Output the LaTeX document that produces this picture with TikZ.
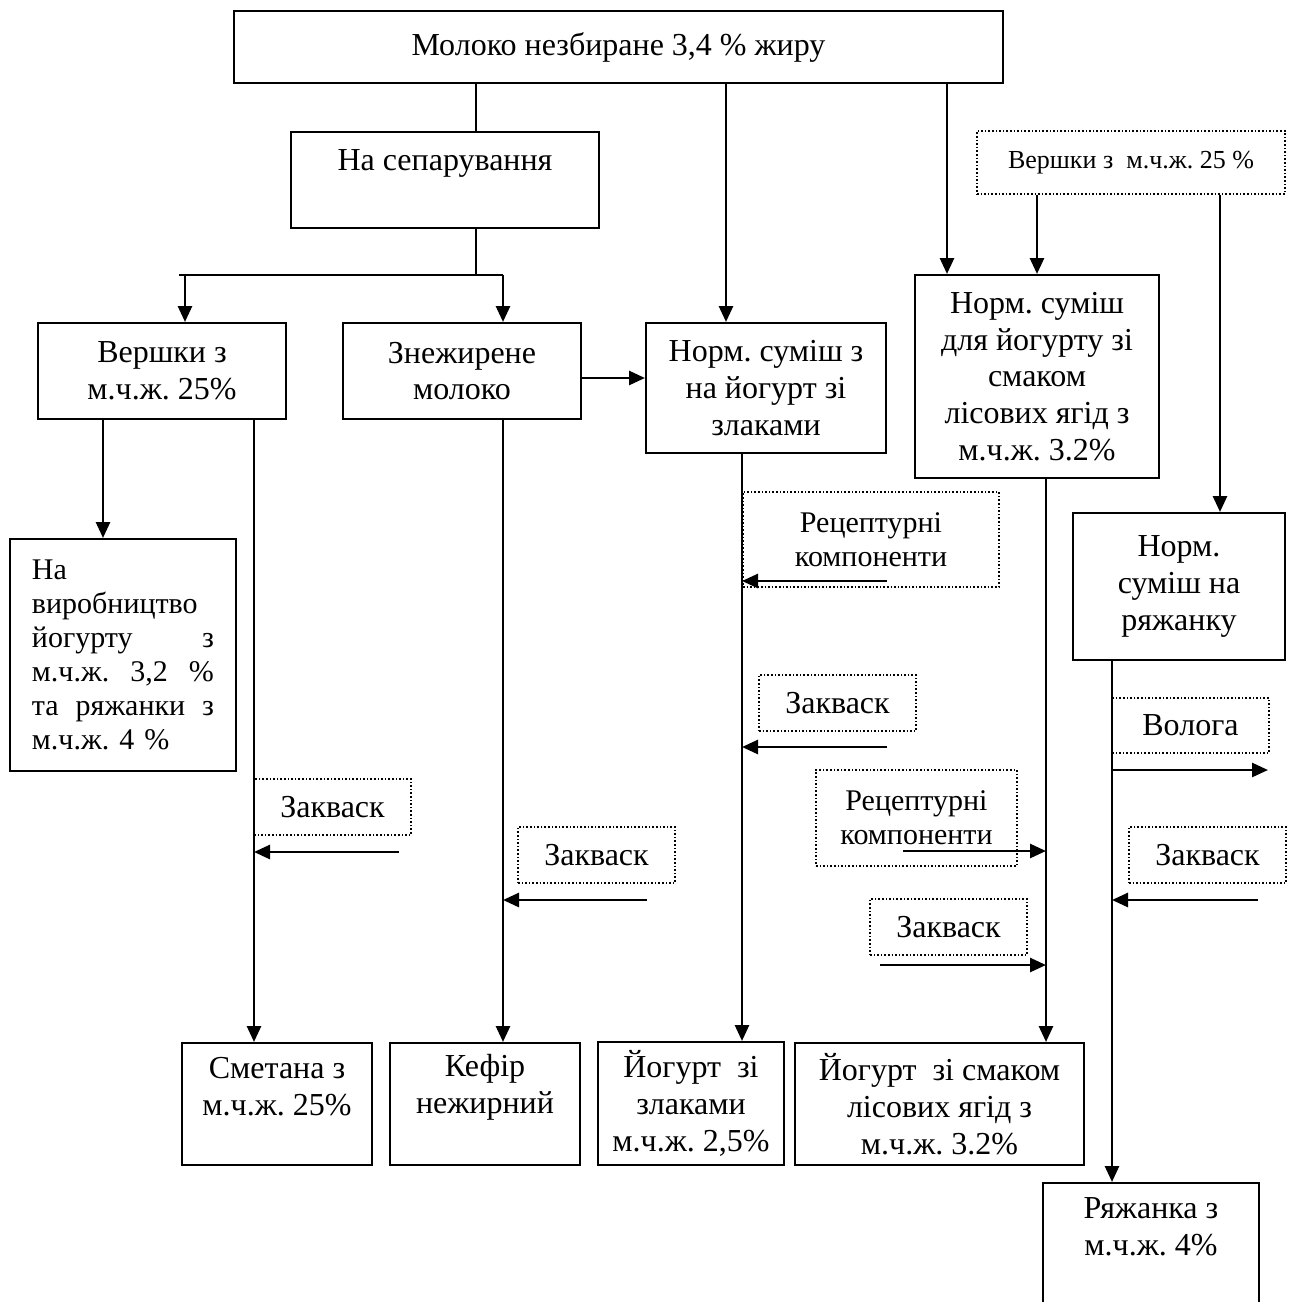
\documentclass[tikz,border=0pt]{standalone}
\usepackage{fontspec}
\setmainfont{Liberation Serif}
\usetikzlibrary{arrows.meta}
\frenchspacing

\tikzset{
  box/.style={draw, line width=1pt, inner sep=0pt, align=center, font=\fontsize{16}{18.4}\selectfont},
  dbox/.style={box, line width=0.8pt, densely dotted, minimum width=78.5pt, minimum height=28pt},
  txt/.style={inner sep=0pt, align=center, font=\fontsize{16}{18.4}\selectfont},
  ln/.style={line width=1.35pt},
  arr/.style={ln, -{Triangle[length=8pt,width=7pt]}}
}

\begin{document}
\begin{tikzpicture}[x=0.5pt, y=-0.5pt]
\useasboundingbox (0,0) rectangle (1294,1302);
\clip (0,0) rectangle (1294,1302);

\node[box, minimum width=384.5pt, minimum height=36pt] (milk) at (618.5,47) {Молоко незбиране 3,4 \% жиру};
\node[box, minimum width=154pt, minimum height=48pt] (sep) at (445,180) {};
\node[txt] (sepT) at (445,163) {На сепарування};
\node[box, minimum width=124pt, minimum height=48pt] (versh) at (162,371) {Вершки з\\м.ч.ж. 25\%};
\node[box, minimum width=119pt, minimum height=48pt] (znezh) at (462,371) {Знежирене\\молоко};
\node[box, minimum width=120pt, minimum height=65pt] (normZ) at (766,388) {Норм. суміш з\\на йогурт зі\\злаками};
\node[box, minimum width=122pt, minimum height=101.5pt] (normL) at (1037,376.5) {Норм. суміш\\для йогурту зі\\смаком\\лісових ягід з\\м.ч.ж. 3.2\%};
\node[dbox, font=\fontsize{13}{15}\selectfont, minimum width=154pt, minimum height=31.5pt] (vdot) at (1131,162.5) {Вершки з\ \ м.ч.ж. 25 \%};
\node[box, minimum width=106pt, minimum height=73.5pt] (normR) at (1179,586.5) {Норм.\\суміш на\\ряжанку};
\node[box, minimum width=113pt, minimum height=116pt] (naVyr) at (123,655) {};
\node[txt, align=left, text width=91pt, font=\fontsize{15}{17}\selectfont] (naVyrT) at (123,655)
  {На\\виробництво\\\makebox[91pt]{йогурту\hfill з}\\\makebox[91pt]{м.ч.ж.\hfill 3,2\hfill \%}\\\makebox[91pt]{та\hfill ряжанки\hfill з}\\м.ч.ж. 4 \%};

\node[dbox, font=\fontsize{15}{17}\selectfont, minimum width=128pt, minimum height=47.5pt] (rec1) at (871,539.5) {Рецептурні\\компоненти};
\node[dbox] (zak3) at (837.5,703) {Закваск};
\node[dbox, minimum height=27.5pt] (volo) at (1190.5,725.5) {Волога};
\node[dbox, font=\fontsize{15}{17}\selectfont, minimum width=100.5pt, minimum height=48pt] (rec2) at (916.5,818) {Рецептурні\\компоненти};
\node[dbox] (zak1) at (332.5,807) {Закваск};
\node[dbox] (zak2) at (596.5,855) {Закваск};
\node[dbox] (zak5) at (1207.5,855) {Закваск};
\node[dbox] (zak4) at (948.5,927) {Закваск};

\node[box, minimum width=95pt, minimum height=61pt] (smet) at (277,1104) {};
\node[txt] (smetT) at (277,1087) {Сметана з\\м.ч.ж. 25\%};
\node[box, minimum width=95pt, minimum height=61pt] (kefir) at (485,1104) {};
\node[txt] (kefirT) at (485,1087) {Кефір\\нежирний};
\node[box, minimum width=93pt, minimum height=61.5pt] (yogZ) at (691,1103.5) {Йогурт\ \ зі\\злаками\\м.ч.ж. 2,5\%};
\node[box, minimum width=144.5pt, minimum height=61pt] (yogL) at (939.5,1104) {Йогурт\ \ зі смаком\\лісових ягід з\\м.ч.ж. 3.2\%};
\node[box, minimum width=108pt, minimum height=73.5pt] (ryaz) at (1151,1256.5) {};
\node[txt] (ryazT) at (1151,1227) {Ряжанка з\\м.ч.ж. 4\%};

\coordinate (split) at (476,275);
\coordinate (sl) at (185,275);
\coordinate (sr) at (503,275);
\coordinate (yZn) at (0,378);
\coordinate (cNZ) at (726,0);
\coordinate (cNL) at (947,0);
\coordinate (cVL) at (1037,0);
\coordinate (cVR) at (1220,0);
\coordinate (cNa) at (103,0);
\coordinate (cSm) at (254,0);
\coordinate (cYZ) at (742,0);
\coordinate (cYL) at (1046,0);
\coordinate (cRz) at (1112,0);

\draw[ln] (milk.south -| split) -- (sep.north -| split);
\draw[ln] (sep.south -| split) -- (split);
\draw[ln] ([xshift=-3pt]sl) -- (sr);
\draw[arr] (sl) -- (sl |- versh.north);
\draw[arr] (sr) -- (sr |- znezh.north);
\draw[arr] (znezh.east |- yZn) -- (normZ.west |- yZn);
\draw[arr] (milk.south -| cNZ) -- (normZ.north -| cNZ);
\draw[arr] (milk.south -| cNL) -- (normL.north -| cNL);
\draw[arr] (vdot.south -| cVL) -- (normL.north -| cVL);
\draw[arr] (vdot.south -| cVR) -- (normR.north -| cVR);
\draw[arr] (versh.south -| cNa) -- (naVyr.north -| cNa);
\draw[arr] (versh.south -| cSm) -- (smet.north -| cSm);
\draw[arr] (znezh.south -| sr) -- (kefir.north -| sr);
\draw[arr] (normZ.south -| cYZ) -- (yogZ.north -| cYZ);
\draw[arr] (normL.south -| cYL) -- (yogL.north -| cYL);
\draw[arr] (normR.south -| cRz) -- (ryaz.north -| cRz);

\coordinate (a1) at (399,852);
\coordinate (a2) at (647,900);
\coordinate (a3) at (887,581);
\coordinate (a4) at (887,747);
\coordinate (a5) at (903,851);
\coordinate (a6) at (880,965);
\coordinate (a7) at (1268,770);
\coordinate (a8) at (1258,900);
\foreach \a/\c in {a1/cSm, a2/sr, a3/cYZ, a4/cYZ, a5/cYL, a6/cYL, a8/cRz}
  \draw[arr] (\a) -- (\a -| \c);
\draw[arr] (a7 -| cRz) -- (a7);
\end{tikzpicture}
\end{document}
